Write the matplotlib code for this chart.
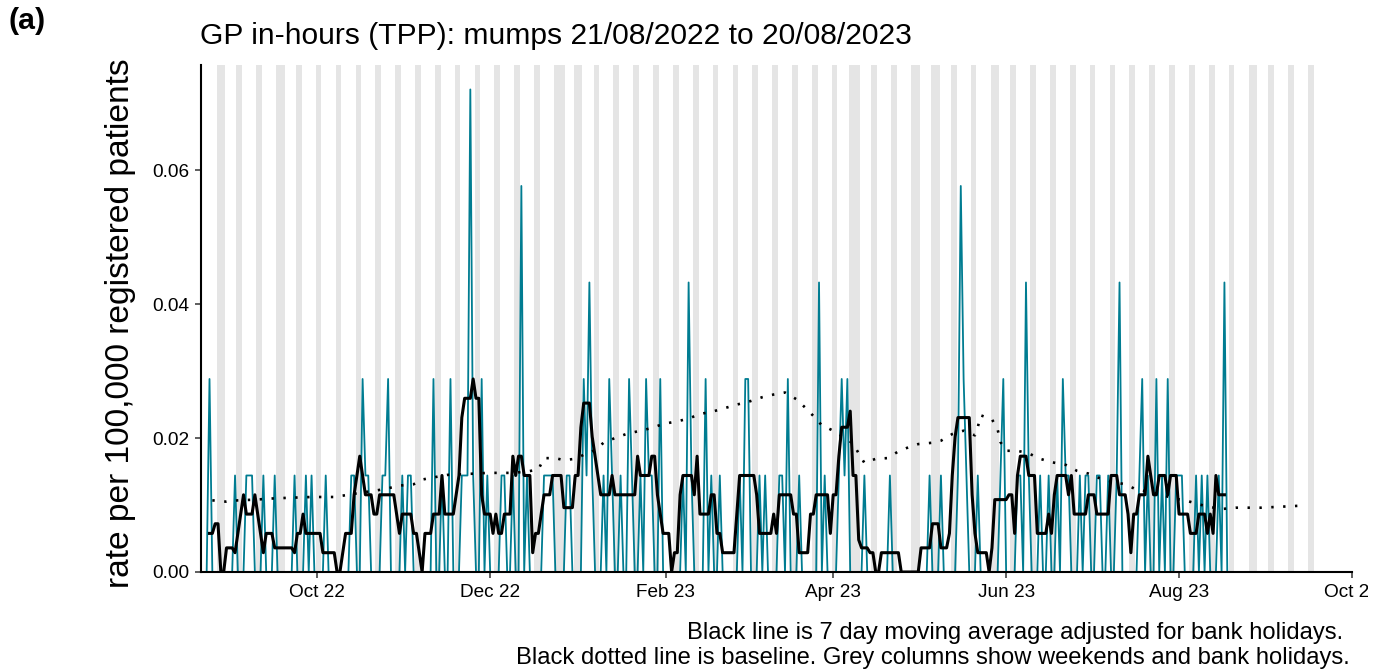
import matplotlib
matplotlib.use("Agg")
import matplotlib.pyplot as plt
import matplotlib.dates as mdates
from matplotlib.transforms import Bbox, TransformedBbox
import numpy as np
import pandas as pd

plt.rcParams['font.family'] = ['Liberation Sans', 'DejaVu Sans']

# ---------------- data ----------------
start_date = "2022-08-21"
rate_per_case = 0.01441   # rate per 100,000 for one consultation

# daily consultations, one row per week (Sun..Sat)
cases_by_week = [
    [0, 0, 0, 2, 0, 0, 0],
    [0, 0, 0, 0, 0, 1, 0],
    [0, 0, 1, 1, 1, 0, 0],
    [0, 1, 0, 0, 0, 1, 0],
    [0, 0, 0, 0, 0, 1, 0],
    [0, 0, 1, 0, 1, 0, 0],
    [0, 0, 1, 0, 0, 0, 0],
    [0, 0, 0, 0, 1, 1, 0],
    [0, 2, 1, 1, 0, 0, 0],
    [0, 1, 1, 2, 0, 0, 0],
    [0, 1, 0, 1, 1, 0, 0],
    [0, 0, 0, 0, 0, 2, 0],
    [0, 1, 0, 0, 2, 0, 0],
    [0, 1, 1, 1, 5, 1, 0],
    [0, 2, 0, 1, 0, 0, 0],
    [0, 1, 1, 0, 0, 1, 0],
    [0, 4, 0, 1, 0, 0, 0],
    [0, 0, 1, 1, 1, 1, 0],
    [0, 0, 0, 1, 1, 0, 0],
    [0, 0, 2, 1, 3, 1, 0],
    [0, 0, 1, 0, 2, 1, 0],
    [0, 1, 0, 0, 2, 1, 0],
    [0, 1, 0, 2, 1, 1, 0],
    [0, 2, 0, 0, 0, 0, 0],
    [0, 0, 1, 0, 3, 1, 0],
    [0, 0, 0, 2, 0, 1, 0],
    [0, 1, 0, 0, 0, 0, 0],
    [0, 1, 0, 2, 2, 0, 0],
    [0, 1, 0, 1, 0, 0, 0],
    [0, 1, 1, 0, 2, 0, 0],
    [0, 1, 0, 0, 0, 0, 0],
    [0, 3, 0, 1, 0, 0, 0],
    [0, 1, 2, 1, 2, 0, 0],
    [0, 0, 0, 1, 0, 0, 0],
    [0, 0, 0, 0, 0, 1, 0],
    [0, 0, 0, 0, 0, 0, 0],
    [0, 0, 0, 0, 0, 1, 0],
    [0, 0, 1, 0, 0, 0, 0],
    [0, 1, 4, 2, 1, 0, 0],
    [0, 1, 0, 0, 0, 0, 0],
    [0, 0, 1, 2, 0, 0, 0],
    [0, 1, 1, 0, 3, 1, 0],
    [0, 0, 1, 0, 0, 1, 0],
    [0, 1, 0, 2, 1, 1, 0],
    [0, 0, 1, 0, 1, 1, 0],
    [0, 1, 1, 0, 0, 1, 0],
    [0, 1, 3, 0, 0, 0, 0],
    [0, 0, 1, 2, 0, 1, 0],
    [0, 2, 0, 1, 0, 2, 0],
    [0, 1, 1, 1, 0, 0, 0],
    [0, 1, 0, 1, 0, 1, 0],
    [0, 0, 1, 0, 3, 0, 0],
    [0],
]

bank_holidays = ["2022-08-29", "2022-09-19", "2022-12-26", "2022-12-27",
                 "2023-01-02", "2023-04-07", "2023-04-10", "2023-05-01",
                 "2023-05-08", "2023-05-29", "2023-08-28"]
shading_end = "2023-09-17"

baseline_dates = [
    "2022-08-25", "2022-08-30", "2022-09-03", "2022-09-09", "2022-09-16",
    "2022-09-29", "2022-10-07", "2022-10-13", "2022-10-17", "2022-10-21",
    "2022-10-26", "2022-10-30", "2022-11-04", "2022-11-07", "2022-11-12",
    "2022-11-16", "2022-11-21", "2022-11-26", "2022-11-30", "2022-12-09",
    "2022-12-14", "2022-12-18", "2022-12-20", "2022-12-24", "2022-12-27",
    "2022-12-31", "2023-01-03", "2023-01-07", "2023-01-10", "2023-01-14",
    "2023-01-18", "2023-01-23", "2023-01-27", "2023-01-31", "2023-02-05",
    "2023-02-09", "2023-02-13", "2023-02-17", "2023-02-22", "2023-02-26",
    "2023-03-02", "2023-03-07", "2023-03-11", "2023-03-15", "2023-03-19",
    "2023-03-22", "2023-03-25", "2023-03-28", "2023-04-01", "2023-04-08",
    "2023-04-10", "2023-04-12", "2023-04-16", "2023-04-20", "2023-04-24",
    "2023-04-28", "2023-05-01", "2023-05-06", "2023-05-09", "2023-05-13",
    "2023-05-17", "2023-05-21", "2023-05-22", "2023-05-23", "2023-05-27",
    "2023-05-29", "2023-05-30", "2023-06-01", "2023-06-05", "2023-06-09",
    "2023-06-13", "2023-06-17", "2023-06-22", "2023-06-26", "2023-06-30",
    "2023-07-04", "2023-07-08", "2023-07-13", "2023-07-17", "2023-07-21",
    "2023-07-26", "2023-07-30", "2023-08-04", "2023-08-08", "2023-08-12",
    "2023-08-16", "2023-08-21", "2023-08-30", "2023-09-13",
]
baseline_values = [
    0.0107, 0.0105, 0.0107, 0.0108, 0.0110,
    0.0112, 0.0112, 0.0116, 0.0119, 0.0121,
    0.0125, 0.0129, 0.0131, 0.0138, 0.0142,
    0.0145, 0.0146, 0.0147, 0.0148, 0.0148,
    0.0150, 0.0153, 0.0170, 0.0170, 0.0167,
    0.0169, 0.0175, 0.0182, 0.0193, 0.0200,
    0.0206, 0.0211, 0.0215, 0.0221, 0.0225,
    0.0229, 0.0236, 0.0239, 0.0245, 0.0250,
    0.0254, 0.0261, 0.0265, 0.0268, 0.0258,
    0.0246, 0.0233, 0.0219, 0.0211, 0.0192,
    0.0177, 0.0163, 0.0169, 0.0170, 0.0180,
    0.0187, 0.0191, 0.0193, 0.0196, 0.0206,
    0.0211, 0.0204, 0.0216, 0.0234, 0.0228,
    0.0213, 0.0194, 0.0181, 0.0181, 0.0177,
    0.0169, 0.0164, 0.0160, 0.0151, 0.0147,
    0.0140, 0.0135, 0.0131, 0.0123, 0.0120,
    0.0115, 0.0110, 0.0106, 0.0101, 0.0097,
    0.0094, 0.0096, 0.0096, 0.0099,
]

x_tick_dates = ["2022-10-01", "2022-12-01", "2023-02-01", "2023-04-01",
                "2023-06-01", "2023-08-01", "2023-10-01"]
x_tick_labels = ["Oct 22", "Dec 22", "Feb 23", "Apr 23", "Jun 23", "Aug 23", "Oct 23"]
x_limits = ["2022-08-21", "2023-10-01"]
y_ticks = [0.00, 0.02, 0.04, 0.06]
y_tick_labels = ["0.00", "0.02", "0.04", "0.06"]
y_max = 0.0757

title_text = "GP in-hours (TPP): mumps 21/08/2022 to 20/08/2023"
panel_tag = "(a)"
y_label = "rate per 100,000 registered patients"
caption_1 = "Black line is 7 day moving average adjusted for bank holidays."
caption_2 = "Black dotted line is baseline. Grey columns show weekends and bank holidays."

# ---------------- derived series ----------------
counts = np.array([c for wk in cases_by_week for c in wk], dtype=float)
dates = pd.date_range(start_date, periods=len(counts), freq="D")
rates = counts * rate_per_case
bh = pd.to_datetime(bank_holidays)
working = ((dates.dayofweek < 5) & ~dates.isin(bh)).astype(float)
roll_sum = pd.Series(rates).rolling(7, center=True).sum()
roll_work = pd.Series(working).rolling(7, center=True).sum()
ma = (roll_sum / roll_work).values

all_days = pd.date_range(start_date, shading_end, freq="D")
grey_days = all_days[(all_days.dayofweek >= 5) | all_days.isin(bh)]

# ---------------- figure ----------------
W, H = 1391, 672
fig = plt.figure(figsize=(W / 100, H / 100), dpi=100)
ax = fig.add_axes([201 / W, 1 - 572 / H, (1352 - 201) / W, (572 - 65) / H])

xd = mdates.date2num(dates)
for g in mdates.date2num(grey_days):
    ax.axvspan(g - 0.5, g + 0.5, color="#E5E5E5", lw=0, zorder=0)

teal = "#007C91"
ax.plot(xd, rates, color=teal, lw=1.3, zorder=2)
ax.plot(xd, ma, color="black", lw=2.2, zorder=3)
ax.plot(mdates.date2num(pd.to_datetime(baseline_dates)), baseline_values,
        color="black", lw=1.9, linestyle=(0, (0.9, 3.6)), zorder=4)

ax.set_xlim(mdates.date2num(pd.to_datetime(x_limits[0])),
            mdates.date2num(pd.to_datetime(x_limits[1])))
ax.set_ylim(0, y_max)

ax.set_xticks(mdates.date2num(pd.to_datetime(x_tick_dates)))
ax.set_xticklabels(x_tick_labels)
ax.set_yticks(y_ticks)
ax.set_yticklabels(y_tick_labels)

for s in ["top", "right"]:
    ax.spines[s].set_visible(False)
for s in ["left", "bottom"]:
    ax.spines[s].set_linewidth(1.5)
    ax.spines[s].set_color("black")
ax.tick_params(axis="both", direction="out", length=4.5, width=1.1,
               color="#333333", labelcolor="black", pad=4)
ax.set_facecolor("white")

t_title = fig.text(200 / W, 1 - 36 / H, title_text, ha="left", va="center", fontsize=15)
t_tag = fig.text(8 / W, 1 - 21 / H, panel_tag, ha="left", va="center",
                 fontsize=16, fontweight="bold")
t_ylab = fig.text(121 / W, 1 - 323 / H, y_label, ha="center", va="center",
                  rotation=90, fontsize=19)
t_c1 = fig.text(1343 / W, 1 - 633 / H, caption_1, ha="right", va="center", fontsize=14)
t_c2 = fig.text(1350 / W, 1 - 658 / H, caption_2, ha="right", va="center", fontsize=14)

fig.canvas.draw()
rend = fig.canvas.get_renderer()


def fit(t, target):
    bb = t.get_window_extent(rend)
    size = max(bb.width, bb.height)
    t.set_fontsize(t.get_fontsize() * target / size)


fit(t_title, 712)
fit(t_ylab, 530)
fit(t_c1, 660)
fit(t_c2, 841)
fit(t_tag, 37)

probe = fig.text(0, 0, "Oct 22", fontsize=12)
fit(probe, 56)
tick_size = probe.get_fontsize()
probe.remove()
ax.tick_params(axis="both", labelsize=tick_size)

fig.canvas.draw()
clip = TransformedBbox(Bbox([[0, 0], [1368 / W, 1]]), fig.transFigure)
for tk in ax.xaxis.get_major_ticks():
    tk.label1.set_clip_box(clip)
    tk.label1.set_clip_on(True)

fig.savefig("out.png", dpi=100, facecolor="white")
